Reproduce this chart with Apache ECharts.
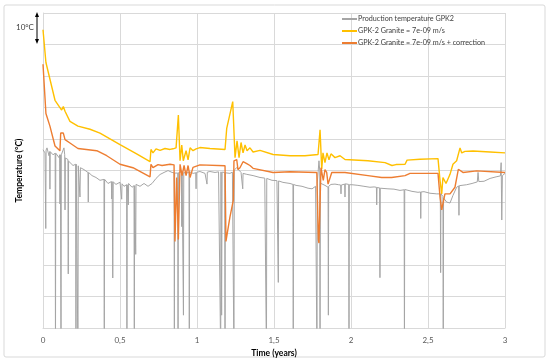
<!DOCTYPE html>
<html><head><meta charset="utf-8">
<script src="https://cdn.jsdelivr.net/npm/echarts@6/dist/echarts.min.js"></script>
<style>html,body{margin:0;padding:0;background:#fff}#c{width:550px;height:363px}</style>
</head><body><div id="c"></div>
<script>
var seriesNames = ['Production temperature GPK2', 'GPK-2 Granite = 7e-09 m/s', 'GPK-2 Granite = 7e-09 m/s + correction'];
var xTicks = [0, 0.5, 1, 1.5, 2, 2.5, 3];

var production = [
[0,156.6],[0.013,155.6],[0.016,155.5],[0.018,131.6],[0.020,156.5],[0.026,157.2],[0.039,154.7],
[0.043,156],[0.045,144.1],[0.047,156],[0.052,156.6],[0.065,155.0],[0.079,155.5],[0.081,90],[0.083,155.5],
[0.091,155.9],[0.104,154.1],[0.108,155],[0.110,139.4],[0.113,155],[0.117,90],[0.119,155],[0.123,154.7],
[0.136,157.2],[0.141,155],[0.143,137.5],[0.145,154],[0.149,153.4],[0.162,153.5],[0.164,117.2],[0.166,153],
[0.175,153.1],[0.195,151.6],[0.212,152],[0.214,90],[0.216,152],[0.225,152],[0.227,90],[0.229,151.5],
[0.237,151.2],[0.240,141.6],[0.243,150.9],[0.266,150.3],[0.292,149.4],[0.294,140.0],[0.296,149.4],
[0.318,148.4],[0.344,147.8],[0.370,146.9],[0.396,147.2],[0.398,90],[0.400,147.2],[0.422,145.9],
[0.444,146.5],[0.446,141],[0.449,146.5],[0.453,115.9],[0.456,146.4],[0.474,145.6],[0.5,146.3],
[0.509,145.8],[0.511,140.9],[0.513,145.8],[0.526,145.0],[0.543,145.5],[0.545,90],[0.547,145.5],
[0.552,145.9],[0.554,139.1],[0.556,145.9],[0.578,144.7],[0.591,145.2],[0.593,90],[0.595,145.2],
[0.600,145.5],[0.602,123.4],[0.604,145.6],[0.630,145.0],[0.656,145.9],[0.682,145.0],[0.708,145.9],
[0.734,147.5],[0.760,148.75],[0.786,149.4],[0.812,150.0],[0.838,149.4],[0.851,149.3],[0.853,90],[0.855,149.2],
[0.864,149.1],[0.875,149.2],[0.877,90],[0.879,149.3],[0.890,149.5],[0.899,149.6],[0.901,132.2],[0.903,149.7],
[0.910,149.5],[0.912,104.1],[0.914,149.4],[0.929,149.1],[0.948,149.5],[0.950,90],[0.952,149.6],[0.975,149.1],
[0.992,149.3],[0.994,144.2],[0.996,149.4],[1.019,149.7],[1.052,149.1],[1.063,149.5],[1.065,145.7],[1.067,149.5],
[1.084,149.7],[1.117,149.4],[1.140,149.6],[1.152,149.6],[1.154,90],[1.156,149.6],[1.160,104.1],[1.163,149.5],
[1.175,149.4],[1.180,149.4],[1.182,90],[1.184,149.3],[1.214,149.1],[1.230,149.5],[1.238,149.8],[1.240,90],
[1.242,150.2],[1.258,150.9],[1.286,149.4],[1.295,149.2],[1.297,144.2],[1.299,149.1],[1.323,148.8],[1.364,148.4],
[1.409,147.8],[1.440,147.6],[1.449,147.5],[1.451,90],[1.453,147.5],[1.487,146.9],[1.519,146.8],[1.526,146.7],
[1.528,114.5],[1.530,146.7],[1.558,146.25],[1.604,145.9],[1.623,145.6],[1.625,90],[1.627,145.6],[1.643,145.3],
[1.682,145.0],[1.721,144.4],[1.747,144.2],[1.770,145.0],[1.777,145.2],[1.779,90],[1.781,146],[1.792,153.1],
[1.797,150],[1.799,90],[1.801,146],[1.810,145.7],[1.831,145.3],[1.851,144.7],[1.853,104.1],[1.855,145],
[1.870,145.6],[1.896,145.7],[1.920,145.5],[1.933,145.4],[1.935,142.6],[1.937,145.4],[1.959,145.7],[1.961,141.6],
[1.963,145.8],[1.985,145.6],[1.987,90],[1.989,145.5],[2.006,145.5],[2.045,145.3],[2.084,145.0],[2.123,144.7],
[2.150,144.8],[2.165,144.7],[2.167,139.1],[2.169,144.6],[2.186,144.5],[2.188,116.0],[2.190,144.4],[2.201,144.4],
[2.240,144.2],[2.279,144.1],[2.318,143.7],[2.345,143.9],[2.347,90],[2.349,144],[2.357,144.1],[2.396,143.4],
[2.435,143.1],[2.451,143.2],[2.453,134.8],[2.455,143.2],[2.474,143.3],[2.513,142.8],[2.557,142.6],[2.580,142.6],
[2.582,117.6],[2.584,142.6],[2.592,142.2],[2.597,141.8],[2.599,90],[2.601,141.3],[2.621,140.0],[2.643,139.7],
[2.662,142.1],[2.686,144.7],[2.699,145.1],[2.701,135.8],[2.703,145.2],[2.714,145.3],[2.751,145.5],[2.786,145.9],
[2.820,146.4],[2.825,149.4],[2.830,146.5],[2.864,146.6],[2.903,147.5],[2.942,148.0],[2.970,148.3],[2.975,152.5],
[2.979,134.3],[2.983,148.4],[3.0,149.1]
];

var granite = [
[0,194.7],[0.019,184.3],[0.078,172.3],[0.121,169.2],[0.132,170.3],[0.143,168.8],[0.175,165.6],[0.227,164.1],
[0.305,163.1],[0.370,161.9],[0.5,158.2],[0.608,155.3],[0.695,152.8],[0.701,156.7],[0.714,155.6],[0.734,156.9],
[0.760,156.4],[0.792,157.0],[0.825,156.7],[0.844,156.9],[0.864,157.2],[0.879,167.6],[0.890,153.1],[0.901,158.1],
[0.911,153.1],[0.929,156.3],[0.942,153.4],[0.955,157.2],[0.974,156.3],[0.994,156.9],[1.019,157.3],[1.084,157.0],
[1.182,156.7],[1.193,163.4],[1.232,171.9],[1.247,154.1],[1.260,159.4],[1.273,154.1],[1.286,158.9],[1.299,155.6],
[1.312,158.1],[1.325,156.3],[1.344,157.2],[1.364,155.9],[1.409,156.4],[1.494,155.1],[1.604,154.7],[1.701,154.7],
[1.786,155.1],[1.799,162.9],[1.810,150.4],[1.818,155.6],[1.831,152.5],[1.844,155.6],[1.857,153.4],[1.870,155.3],
[1.896,154.1],[1.929,154.7],[1.961,153.5],[2.110,153.1],[2.221,152.5],[2.266,151.6],[2.292,151.9],[2.351,152.0],
[2.364,153.3],[2.448,153.6],[2.565,153.8],[2.578,146.9],[2.589,142.6],[2.597,147.8],[2.617,145.9],[2.643,148.8],
[2.662,152.0],[2.686,153.1],[2.708,157.2],[2.719,155.6],[2.740,156.1],[2.792,156.2],[2.903,155.9],[3.0,155.6]
];

var graniteCorr = [
[0,183.75],[0.019,168.1],[0.045,164.1],[0.078,157.8],[0.110,156.25],[0.115,161.9],[0.132,161.9],[0.143,159.8],
[0.175,158.75],[0.227,157.0],[0.349,156.3],[0.357,156.25],[0.414,154.7],[0.5,152.0],[0.584,150.9],[0.695,148.0],
[0.701,152.0],[0.714,150.9],[0.747,151.9],[0.773,151.6],[0.825,152.0],[0.851,151.8],[0.857,127.5],[0.868,147.8],
[0.879,128.1],[0.890,152.0],[0.903,148.4],[0.916,151.6],[0.929,148.4],[0.942,151.6],[0.955,147.8],[0.974,151.0],
[1.019,151.8],[1.182,151.5],[1.188,127.5],[1.214,135.3],[1.236,140.6],[1.240,153.1],[1.258,153.5],[1.266,150.3],
[1.279,150.9],[1.299,152.8],[1.323,152.2],[1.344,151.6],[1.364,150.7],[1.494,149.4],[1.604,149.6],[1.778,149.4],
[1.788,128.1],[1.792,127.0],[1.805,150.9],[1.820,146.9],[1.831,150.3],[1.842,149.4],[1.851,145.7],[1.875,149.4],
[1.961,149.4],[2.110,148.4],[2.199,147.8],[2.264,147.8],[2.351,148.4],[2.383,149.1],[2.565,149.1],[2.578,141.6],
[2.589,137.5],[2.610,142.6],[2.643,142.6],[2.675,144.7],[2.697,150.4],[2.708,150.7],[2.727,149.4],[2.816,149.9],
[3.0,149.4]
];

var chart = echarts.init(document.getElementById('c'), null, {renderer: 'canvas'});
var FONT = 'Lato, "Open Sans", sans-serif';
chart.setOption({
  animation: false,
  backgroundColor: '#ffffff',
  textStyle: {fontFamily: FONT},
  grid: {left: 43, right: 45, top: 13, bottom: 30},
  legend: {
    orient: 'vertical', left: 337, top: 9, itemGap: 2,
    itemWidth: 15, itemHeight: 2, icon: 'rect',
    textStyle: {fontSize: 7.2, lineHeight: 10, color: '#404040', fontFamily: FONT, padding: [0, 0, 0, -4]},
    data: seriesNames
  },
  xAxis: {
    type: 'value', min: 0, max: 3, interval: 0.5,
    name: 'Time (years)', nameLocation: 'middle', nameGap: 14,
    nameTextStyle: {fontSize: 8.5, fontWeight: 'bold', color: '#000', fontFamily: FONT},
    axisLine: {show: true, lineStyle: {color: '#d9d9d9'}},
    axisTick: {show: false},
    axisLabel: {fontSize: 8, color: '#595959', margin: 8,
      formatter: function (v) { return xTicks.indexOf(v) >= 0 ? String(v).replace('.', ',') : ''; }},
    splitLine: {show: true, lineStyle: {color: '#d9d9d9', width: 1}}
  },
  yAxis: {
    type: 'value', min: 100, max: 200, interval: 10,
    name: 'Temperature (°C)', nameLocation: 'middle', nameGap: 19,
    nameTextStyle: {fontSize: 8.5, fontWeight: 'bold', color: '#000', fontFamily: FONT},
    axisLine: {show: true, lineStyle: {color: '#d9d9d9'}},
    axisTick: {show: false},
    axisLabel: {show: false},
    splitLine: {show: true, lineStyle: {color: '#d9d9d9', width: 1}}
  },
  series: [
    {name: seriesNames[0], type: 'line', data: production, showSymbol: false, symbol: 'none',
     lineStyle: {color: '#a5a5a5', width: 1}, itemStyle: {color: '#a5a5a5'}},
    {name: seriesNames[1], type: 'line', data: granite, showSymbol: false, symbol: 'none',
     lineStyle: {color: '#ffc000', width: 1.4}, itemStyle: {color: '#ffc000'}},
    {name: seriesNames[2], type: 'line', data: graniteCorr, showSymbol: false, symbol: 'none',
     lineStyle: {color: '#ed7d31', width: 1.4}, itemStyle: {color: '#ed7d31'}}
  ],
  graphic: [
    {type: 'rect', shape: {x: 4, y: 5, width: 541, height: 352, r: 2}, silent: true,
     style: {fill: 'none', stroke: '#d9d9d9', lineWidth: 1}},
    {type: 'line', shape: {x1: 37, y1: 15, x2: 37, y2: 41}, style: {stroke: '#000', lineWidth: 1}},
    {type: 'polygon', shape: {points: [[37, 12], [35, 17], [39, 17]]}, style: {fill: '#000'}},
    {type: 'polygon', shape: {points: [[37, 44], [35, 39], [39, 39]]}, style: {fill: '#000'}},
    {type: 'text', left: 16, top: 23, style: {text: '10°C', fontSize: 8, fill: '#404040', fontFamily: FONT}}
  ]
});
</script></body></html>
